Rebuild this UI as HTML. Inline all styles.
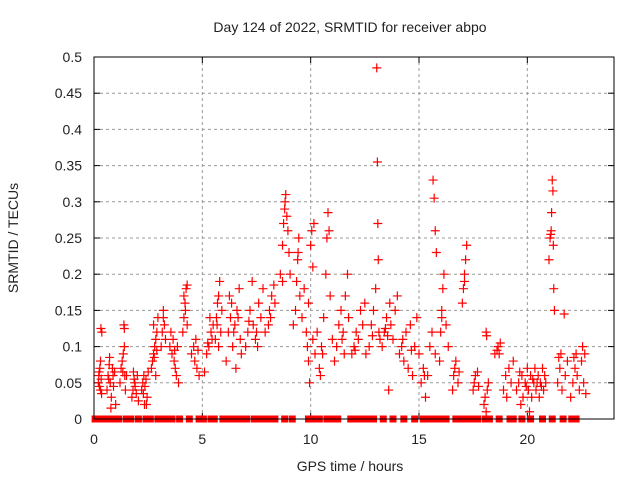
<!DOCTYPE html>
<html><head><meta charset="utf-8">
<style>
html,body{margin:0;padding:0;background:#fff;}
svg{display:block;font-family:"Liberation Sans",sans-serif;}
</style></head>
<body>
<svg id="chart" width="640" height="480" viewBox="0 0 640 480" xmlns="http://www.w3.org/2000/svg">
<rect x="0" y="0" width="640" height="480" fill="#fff"/>
<text x="350" y="32" font-size="14" text-anchor="middle" fill="#222">Day 124 of 2022, SRMTID for receiver abpo</text>
<g id="grid"></g>
<g id="ticks"></g>
<g id="points"></g>
<rect x="94" y="57" width="520" height="362" fill="none" stroke="#000" stroke-width="1"/>
<text x="350" y="471" font-size="14" text-anchor="middle" fill="#222">GPS time / hours</text>
<text x="18" y="238" font-size="14" text-anchor="middle" fill="#222" transform="rotate(-90 18 238)">SRMTID / TECUs</text>
</svg>
<script>
const xTicks = [0,5,10,15,20];
const yTicks = [0,0.05,0.1,0.15,0.2,0.25,0.3,0.35,0.4,0.45,0.5];
const yTickLabels = ["0","0.05","0.1","0.15","0.2","0.25","0.3","0.35","0.4","0.45","0.5"];
const obs = [
[0.2,0.05],[0.22,0.06],[0.25,0.045],[0.27,0.07],[0.3,0.08],[0.33,0.055],[0.35,0.035],[0.32,0.125],[0.36,0.12],[0.24,0.065],[0.3,0.04],
[0.6,0.04],[0.65,0.06],[0.7,0.075],[0.72,0.085],[0.75,0.05],[0.8,0.03],[0.85,0.07],[0.9,0.045],[0.95,0.065],[1.0,0.02],[0.78,0.015],[0.68,0.055],[0.88,0.06],
[1.2,0.05],[1.25,0.07],[1.3,0.08],[1.35,0.09],[1.4,0.1],[1.42,0.06],[1.45,0.04],[1.38,0.13],[1.4,0.125],[1.5,0.06],[1.33,0.065],
[1.75,0.03],[1.8,0.04],[1.85,0.055],[1.9,0.045],[1.95,0.035],[2.0,0.06],[2.05,0.025],[1.82,0.065],[1.88,0.05],
[2.2,0.04],[2.25,0.05],[2.3,0.06],[2.35,0.045],[2.4,0.055],[2.45,0.03],[2.5,0.065],[2.33,0.02],[2.42,0.02],[2.28,0.035],
[2.65,0.07],[2.7,0.08],[2.75,0.09],[2.8,0.1],[2.85,0.11],[2.9,0.12],[2.75,0.13],[2.95,0.14],[2.85,0.06],[2.78,0.085],[2.9,0.095],
[3.1,0.1],[3.15,0.12],[3.2,0.15],[3.25,0.13],[3.3,0.11],[3.2,0.14],
[3.5,0.1],[3.55,0.12],[3.6,0.09],[3.7,0.08],[3.75,0.07],[3.8,0.06],[3.85,0.1],[3.9,0.05],[3.65,0.11],[3.72,0.095],
[4.1,0.12],[4.15,0.14],[4.2,0.16],[4.25,0.18],[4.3,0.185],[4.15,0.17],[4.3,0.13],[4.22,0.15],
[4.5,0.09],[4.6,0.1],[4.65,0.08],[4.7,0.11],[4.75,0.07],[4.8,0.095],[4.85,0.06],
[5.2,0.09],[5.3,0.1],[5.4,0.12],[5.45,0.11],[5.5,0.13],[5.35,0.14],[5.1,0.065],[5.25,0.105],
[5.6,0.11],[5.65,0.14],[5.7,0.16],[5.75,0.17],[5.8,0.19],[5.85,0.12],[5.9,0.15],[5.75,0.1],[5.68,0.13],
[6.1,0.08],[6.2,0.12],[6.3,0.14],[6.35,0.16],[6.4,0.1],[6.5,0.13],[6.55,0.07],[6.6,0.15],[6.7,0.18],[6.75,0.11],[6.8,0.09],[6.25,0.17],[6.45,0.12],[6.65,0.14],
[7.0,0.1],[7.1,0.12],[7.2,0.15],[7.3,0.19],[7.35,0.13],[7.45,0.11],[7.55,0.1],[7.6,0.16],[7.7,0.14],[7.8,0.18],[7.9,0.12],[7.15,0.135],[7.5,0.12],
[8.05,0.13],[8.1,0.15],[8.2,0.17],[8.3,0.185],[8.35,0.16],[8.15,0.14],
[8.6,0.2],[8.7,0.24],[8.75,0.27],[8.8,0.29],[8.85,0.31],[8.9,0.28],[8.95,0.26],[9.0,0.23],[9.05,0.2],[8.7,0.19],[8.82,0.3],
[9.2,0.13],[9.3,0.15],[9.35,0.19],[9.4,0.22],[9.45,0.25],[9.5,0.17],[9.6,0.14],[9.7,0.18],[9.42,0.23],
[9.8,0.12],[9.85,0.1],[9.9,0.08],[9.95,0.05],[10.0,0.24],[10.05,0.26],[10.1,0.21],[10.15,0.27],[10.2,0.09],[9.9,0.16],[10.1,0.11],
[10.3,0.12],[10.4,0.07],[10.45,0.06],[10.5,0.1],[10.6,0.14],[10.7,0.2],[10.75,0.25],[10.8,0.285],[10.85,0.26],[10.9,0.17],[11.0,0.11],[10.55,0.09],
[11.1,0.08],[11.2,0.1],[11.3,0.13],[11.4,0.15],[11.5,0.12],[11.55,0.09],[11.6,0.17],[11.7,0.2],[11.75,0.14],[11.45,0.11],
[11.9,0.09],[12.0,0.1],[12.1,0.12],[12.2,0.11],[12.3,0.15],[12.4,0.13],[12.5,0.16],[12.55,0.09],[12.05,0.095],
[12.7,0.1],[12.8,0.13],[12.9,0.15],[13.0,0.18],[13.05,0.485],[13.08,0.355],[13.1,0.27],[13.12,0.22],[13.15,0.12],[13.2,0.11],[12.85,0.115],
[13.3,0.1],[13.4,0.12],[13.5,0.14],[13.6,0.04],[13.65,0.16],[13.7,0.13],[13.8,0.11],[13.9,0.15],[14.0,0.17],[13.45,0.125],[13.55,0.115],
[14.1,0.09],[14.2,0.1],[14.3,0.08],[14.4,0.12],[14.5,0.07],[14.6,0.13],[14.7,0.06],[14.8,0.1],[14.9,0.14],[15.0,0.09],[14.25,0.11],[14.65,0.095],
[15.1,0.05],[15.2,0.07],[15.3,0.03],[15.4,0.06],[15.5,0.1],[15.6,0.12],[15.65,0.33],[15.7,0.305],[15.75,0.26],[15.8,0.23],[15.75,0.09],[15.25,0.06],
[15.95,0.08],[16.0,0.12],[16.05,0.15],[16.1,0.18],[16.15,0.2],[16.25,0.13],[16.35,0.1],[16.05,0.14],
[16.55,0.04],[16.6,0.06],[16.65,0.07],[16.7,0.08],[16.8,0.05],[16.85,0.065],
[17.0,0.16],[17.05,0.18],[17.1,0.2],[17.15,0.22],[17.2,0.24],[17.1,0.19],
[17.5,0.04],[17.55,0.05],[17.6,0.06],[17.7,0.065],[17.75,0.045],
[18.0,0.02],[18.05,0.03],[18.1,0.01],[18.15,0.04],[18.2,0.05],[18.1,0.12],[18.12,0.115],
[18.5,0.09],[18.6,0.095],[18.65,0.1],[18.75,0.105],[18.7,0.09],
[18.9,0.04],[19.0,0.06],[19.05,0.03],[19.15,0.07],[19.25,0.05],[19.35,0.08],
[19.5,0.04],[19.6,0.05],[19.7,0.02],[19.75,0.06],[19.8,0.03],[19.9,0.05],[20.0,0.07],[20.05,0.04],[20.1,0.01],[20.15,0.06],[20.2,0.03],[20.3,0.05],[20.35,0.07],[20.4,0.04],[20.5,0.06],[20.55,0.03],[20.6,0.05],[20.7,0.07],[20.75,0.04],[20.8,0.06],[20.85,0.05],[19.65,0.065],[20.25,0.055],[20.65,0.045],[19.95,0.045],[20.45,0.05],
[21.0,0.22],[21.05,0.25],[21.1,0.26],[21.12,0.285],[21.15,0.33],[21.18,0.315],[21.2,0.24],[21.25,0.15],[21.22,0.18],[21.08,0.255],
[21.4,0.05],[21.5,0.07],[21.55,0.09],[21.6,0.04],[21.7,0.145],[21.75,0.06],[21.85,0.08],[21.45,0.085],
[22.0,0.03],[22.1,0.05],[22.2,0.07],[22.25,0.09],[22.3,0.06],[22.4,0.04],[22.5,0.08],[22.55,0.1],[22.6,0.05],[22.65,0.09],[22.7,0.035],[22.15,0.085]
];
const zeroTimes = [0.05,0.25,0.45,0.65,0.95,1.15,1.5,1.7,2.05,2.4,2.6,2.95,3.15,3.4,3.6,3.95,4.4,4.85,5.05,5.4,5.55,5.95,6.1,6.4,6.6,6.85,7.05,7.4,7.6,7.85,8.05,8.35,8.8,9.15,9.9,10.15,10.4,10.75,10.95,11.25,11.85,12.05,12.25,12.45,12.7,12.9,13.35,13.8,14.3,14.8,15.2,15.4,15.6,15.85,16.05,16.25,16.7,16.9,17.1,17.3,17.5,17.7,18.05,18.25,18.7,19.2,19.35,19.75,20.15,20.7,21.15,21.65,22.05,22.25];

const X0=94,X1=614,Y0=419,Y1=57;
function xs(t){return X0+(t/24)*(X1-X0);}
function ys(v){return Y0-(v/0.5)*(Y0-Y1);}
const NS="http://www.w3.org/2000/svg";
function mk(tag,attrs,parent){const e=document.createElementNS(NS,tag);for(const k in attrs)e.setAttribute(k,attrs[k]);parent.appendChild(e);return e;}
const grid=document.getElementById('grid'), ticks=document.getElementById('ticks'), pts=document.getElementById('points');
yTicks.forEach((v,i)=>{
  const y=ys(v);
  if(i>0&&i<yTicks.length-1){const g=mk('line',{x1:X0,x2:X1,y1:y,y2:y,stroke:'#999','stroke-dasharray':'3,3'},grid);
  
  }
  mk('line',{x1:X0,x2:X0+6,y1:y,y2:y,stroke:'#000'},ticks);
  mk('line',{x1:X1,x2:X1-6,y1:y,y2:y,stroke:'#000'},ticks);
  const t=mk('text',{x:82,y:y+5,'font-size':14,'text-anchor':'end',fill:'#222'},ticks);
  t.textContent=yTickLabels[i];
  
  
});
xTicks.forEach(v=>{
  const x=xs(v);
  if(v>0){const g=mk('line',{x1:x,x2:x,y1:Y0,y2:Y1,stroke:'#999','stroke-dasharray':'3,3'},grid);
  
  }
  mk('line',{x1:x,x2:x,y1:Y0,y2:Y0-6,stroke:'#000'},ticks);
  mk('line',{x1:x,x2:x,y1:Y1,y2:Y1+6,stroke:'#000'},ticks);
  const t=mk('text',{x:x,y:444,'font-size':14,'text-anchor':'middle',fill:'#222'},ticks);
  t.textContent=String(v);
  
  
});
let d='';
obs.forEach(p=>{const x=xs(p[0]),y=ys(p[1]);d+=`M${x-4.5} ${y}H${x+4.5}M${x} ${y-4.5}V${y+4.5}`;});
const path=mk('path',{d:d,stroke:'#f00','stroke-width':1.2,fill:'none'},pts);


zeroTimes.forEach(t=>{
  const r=mk('rect',{x:xs(t)-3.5,y:ys(0)-3.5,width:7,height:7,fill:'#f00'},pts);
  
  
});
</script>
</body></html>
